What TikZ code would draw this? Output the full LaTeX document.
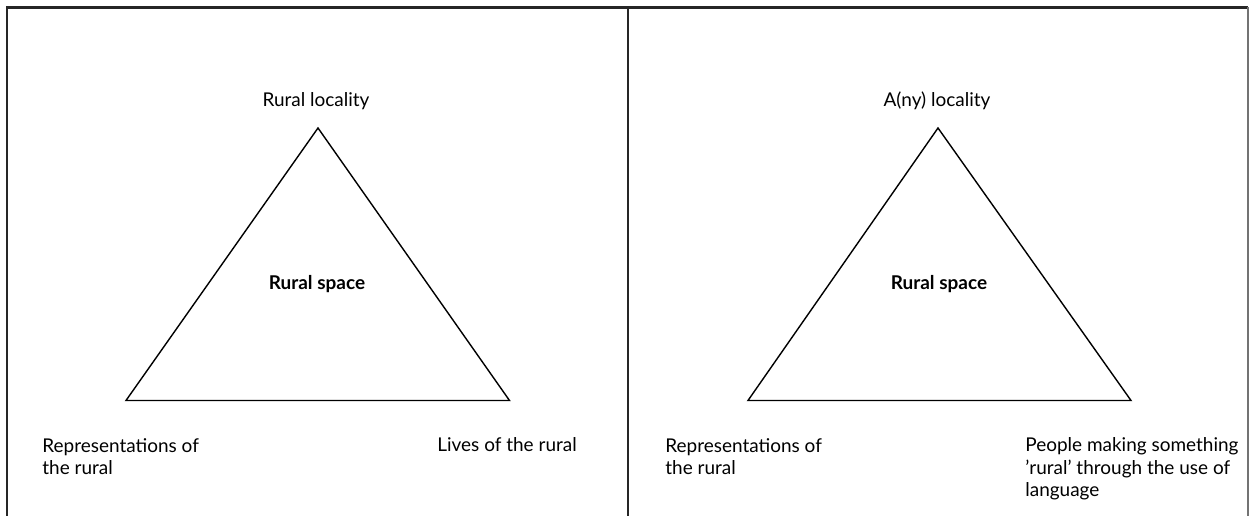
\documentclass[tikz,border=0pt]{standalone}
\usepackage{fontspec}
\setmainfont{Lato}
\begin{document}
\begin{tikzpicture}[x=0.02cm,y=-0.02cm,
  tri/.style={draw=black,line width=0.8pt,line join=miter},
  frame/.style={draw=black!85,line width=1.4pt},
  lbl/.style={inner sep=0pt,font=\fontsize{10.8}{13}\selectfont,align=left},
  ctr/.style={inner sep=0pt,font=\fontsize{10.8}{13}\selectfont\bfseries}]
\useasboundingbox (0,0) rectangle (1249,516);
% frame
\coordinate (fl) at (7,516);
\coordinate (ftl) at (7,7.5);
\coordinate (ftr) at (1248,7.5);
\coordinate (fr) at (1248,516);
\coordinate (mt) at (628,7.5);
\coordinate (mb) at (628,516);
\draw[frame] (fl) -- (ftl) -- (ftr);
\draw[draw=black!55,line width=1.2pt] (ftr) -- (fr);
\draw[frame] (mt) -- (mb);
% left triangle
\coordinate (la) at (318,128);
\coordinate (lb) at (126,400.5);
\coordinate (lc) at (509.5,400.5);
\draw[tri] (la) -- (lb) -- (lc) -- cycle;
% right triangle
\coordinate (ra) at (938,128);
\coordinate (rb) at (748,400.5);
\coordinate (rc) at (1131,400.5);
\draw[tri] (ra) -- (rb) -- (rc) -- cycle;
% labels
\node[lbl,anchor=base] (ltop) at (316,107) {Rural locality};
\node[ctr,anchor=base] (lmid) at (317,290) {Rural space};
\node[lbl,anchor=base west] (lbl1) at (42,475) {Representations of\\the rural};
\node[lbl,anchor=base west] (lbl2) at (437,452) {Lives of the rural};
\node[lbl,anchor=base] (rtop) at (937,107) {A(ny) locality};
\node[ctr,anchor=base] (rmid) at (939,290) {Rural space};
\node[lbl,anchor=base west] (rbl1) at (665,475) {Representations of\\the rural};
\node[lbl,anchor=base west] (rbl2) at (1025,497) {People making something\\’rural’ through the use of\\language};
\end{tikzpicture}
\end{document}
